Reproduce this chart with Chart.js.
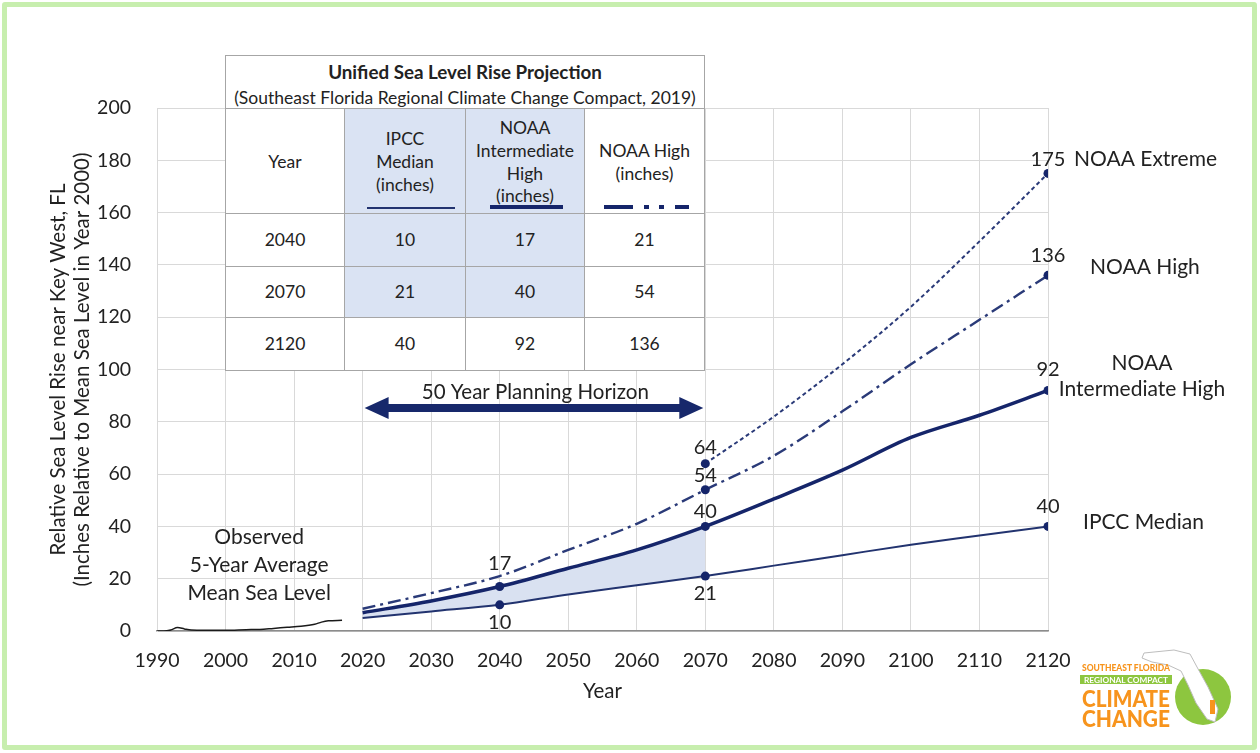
<!DOCTYPE html>
<html>
<head>
<meta charset="utf-8">
<script src="https://cdn.jsdelivr.net/npm/chart.js@4.4.1/dist/chart.umd.min.js"></script>
<style>
  html, body { margin: 0; padding: 0; background: #fff; }
  #wrap { position: relative; width: 1260px; height: 753px; overflow: hidden; font-family: Lato, 'Noto Sans', sans-serif; color: #222; }
  #frame { position: absolute; left: 2px; top: 2px; right: 3px; bottom: 3px; border: 5px solid #c7eeae; border-radius: 3px; pointer-events: none; }
  #tbl { position: absolute; left: 225px; top: 55px; width: 480px; background: #fff; border: 1px solid #a6a6a6; box-sizing: border-box; }
  #tbl .ttl { height: 53px; border-bottom: 1px solid #a6a6a6; text-align: center; font-size: 17.5px; line-height: 25px; padding-top: 3px; box-sizing: border-box; white-space: nowrap; }
  #tbl .ttl b { font-weight: 700; font-size: 18.8px; }
  #tbl .grid { display: grid; grid-template-columns: 119px 121px 119px 119px; grid-template-rows: 105px 53px 51px 52px; }
  #tbl .cell { position: relative; display: flex; flex-direction: column; align-items: center; justify-content: center;
    font-size: 17.5px; line-height: 22.8px; text-align: center; border-right: 1px solid #a6a6a6; border-bottom: 1px solid #a6a6a6; box-sizing: border-box; white-space: nowrap; }
  #tbl .cell.last { border-right: none; }
  #tbl .cell.bottom { border-bottom: none; }
  #tbl .cell.shade { background: #dae3f3; }
  #tbl .mark { position: absolute; bottom: 4px; }
  #logo { position: absolute; left: 1078px; top: 645px; }
</style>
</head>
<body>
<div id="wrap">
  <canvas id="chart" width="1260" height="753"></canvas>
  <div id="tbl"></div>
  <svg id="logo" width="160" height="95" viewBox="0 0 160 95">
    <circle cx="125" cy="52" r="28" fill="#8dc63f"/>
    <polygon points="66,8 96,5 112,9 119,22 130,42 140,64 137,77 129,74 118,58 110,40 103,26 90,20 74,17 64,13" fill="#fff" stroke="#bdbdbd" stroke-width="1"/>
    <rect x="132" y="55" width="5" height="14" fill="#f7941d"/>
    <text x="4" y="26" font-family="Lato" font-weight="900" font-size="8.5" fill="#f7941d" textLength="88" lengthAdjust="spacingAndGlyphs">SOUTHEAST FLORIDA</text>
    <rect x="2" y="30" width="92" height="9" fill="#8dc63f"/>
    <text x="6" y="37.5" font-family="Lato" font-weight="700" font-size="7" fill="#fff" textLength="84" lengthAdjust="spacingAndGlyphs">REGIONAL COMPACT</text>
    <text x="4" y="62" font-family="Lato" font-weight="900" font-size="22" fill="#f7941d" textLength="88" lengthAdjust="spacingAndGlyphs">CLIMATE</text>
    <text x="4" y="82" font-family="Lato" font-weight="900" font-size="22" fill="#f7941d" textLength="88" lengthAdjust="spacingAndGlyphs">CHANGE</text>
  </svg>
  <div id="frame"></div>
</div>
<script>
// observed 5-year average mean sea level, Key West (inches)
const obsYears = [1990, 1991, 1992, 1993, 1994, 1995, 1997, 2000, 2003, 2005, 2007, 2009, 2011, 2013, 2014, 2015, 2017];
const obsLevel = [0, 0, 0.4, 1.3, 0.8, 0.4, 0.3, 0.3, 0.5, 0.6, 1.0, 1.4, 1.8, 2.6, 3.4, 3.9, 4.1];

// projections (inches)
const projYears = [2020, 2030, 2040, 2050, 2060, 2070, 2080, 2090, 2100, 2110, 2120];
const ipccMedian = [5, 7.5, 10, 14, 17.5, 21, 25, 29, 33, 36.5, 40];
const noaaIntHigh = [7, 11.5, 17, 24, 31, 40, 50.5, 61.5, 74, 82.5, 92];
const noaaHigh = [8.5, 14.5, 21, 31, 41, 54, 67, 84, 102, 119, 136];
const extYears = [2070, 2080, 2090, 2100, 2110, 2120];
const noaaExtreme = [64, 82, 102, 124, 149, 175];

const tableYears = [2040, 2070, 2120];
const tableHead = [['Year'], ['IPCC', 'Median', '(inches)'], ['NOAA', 'Intermediate', 'High', '(inches)'], ['NOAA High', '(inches)']];
const planStart = 2020, planEnd = 2070;

const NAVY = '#15256a';
const TEXT = '#222';
const pts = (xs, ys) => xs.map((x, i) => ({ x, y: ys[i] }));
const fillEnd = projYears.indexOf(planEnd) + 1;

const series = {
  ipcc: [projYears, ipccMedian],
  int: [projYears, noaaIntHigh],
  high: [projYears, noaaHigh],
  ext: [extYears, noaaExtreme],
};

// numbers next to the markers
const valueLabels = [
  { key: 'int', year: 2040, dy: -23 },
  { key: 'ipcc', year: 2040, dy: 18 },
  { key: 'ext', year: 2070, dy: -16 },
  { key: 'high', year: 2070, dy: -14 },
  { key: 'int', year: 2070, dy: -15 },
  { key: 'ipcc', year: 2070, dy: 17 },
  { key: 'ext', year: 2120, dy: -14 },
  { key: 'high', year: 2120, dy: -20 },
  { key: 'int', year: 2120, dy: -21 },
  { key: 'ipcc', year: 2120, dy: -20 },
];
const seriesNames = [
  { key: 'ext', lines: ['NOAA Extreme'], dx: 26, dy: -14, align: 'left' },
  { key: 'high', lines: ['NOAA High'], dx: 42, dy: -8, align: 'left' },
  { key: 'int', lines: ['NOAA', 'Intermediate High'], dx: 94, dy: -27, align: 'center' },
  { key: 'ipcc', lines: ['IPCC Median'], dx: 35, dy: -4, align: 'left' },
];

// markers only where a value is labelled
function markRadius(key) {
  const yrs = valueLabels.filter(l => l.key === key).map(l => l.year);
  return ctx => (ctx.raw && yrs.includes(ctx.raw.x) ? 4.5 : 0);
}

const annotate = {
  id: 'annotate',
  afterDatasetsDraw(chart) {
    const { ctx, scales: { x, y } } = chart;
    ctx.save();
    ctx.fillStyle = TEXT;
    ctx.textBaseline = 'middle';
    ctx.font = '20px Lato';
    ctx.textAlign = 'center';
    valueLabels.forEach(l => {
      const [xs, ys] = series[l.key];
      const v = ys[xs.indexOf(l.year)];
      ctx.fillText(String(v), x.getPixelForValue(l.year), y.getPixelForValue(v) + l.dy);
    });
    ctx.font = '21px Lato';
    seriesNames.forEach(s => {
      const [xs, ys] = series[s.key];
      const v = ys[ys.length - 1];
      ctx.textAlign = s.align;
      s.lines.forEach((t, i) => {
        ctx.fillText(t, x.getPixelForValue(xs[xs.length - 1]) + s.dx, y.getPixelForValue(v) + s.dy + i * 26);
      });
    });

    // observed label
    ctx.textAlign = 'center';
    ['Observed', '5-Year Average', 'Mean Sea Level'].forEach((t, i) => {
      ctx.fillText(t, x.getPixelForValue(2004.9), y.getPixelForValue(36) + i * 28);
    });

    // planning horizon arrow
    const x1 = x.getPixelForValue(planStart) + 2, x2 = x.getPixelForValue(planEnd) - 2;
    const yc = y.getPixelForValue(85.3);
    const hl = 24, hh = 11, sh = 4;
    ctx.fillStyle = '#17286b';
    ctx.beginPath();
    ctx.moveTo(x1, yc);
    ctx.lineTo(x1 + hl, yc - hh);
    ctx.lineTo(x1 + hl, yc - sh);
    ctx.lineTo(x2 - hl, yc - sh);
    ctx.lineTo(x2 - hl, yc - hh);
    ctx.lineTo(x2, yc);
    ctx.lineTo(x2 - hl, yc + hh);
    ctx.lineTo(x2 - hl, yc + sh);
    ctx.lineTo(x1 + hl, yc + sh);
    ctx.lineTo(x1 + hl, yc + hh);
    ctx.closePath();
    ctx.fill();
    ctx.fillStyle = TEXT;
    ctx.font = '20.5px Lato';
    ctx.fillText(`${planEnd - planStart} Year Planning Horizon`, x.getPixelForValue(2045.2), yc - 16);
    ctx.restore();
  }
};

const tickFont = { family: 'Lato', size: 19.5 };

new Chart(document.getElementById('chart'), {
  type: 'line',
  data: {
    datasets: [
      { data: pts(projYears.slice(0, fillEnd), ipccMedian.slice(0, fillEnd)), borderWidth: 0, pointRadius: 0, fill: false, cubicInterpolationMode: 'monotone' },
      { data: pts(projYears.slice(0, fillEnd), noaaIntHigh.slice(0, fillEnd)), borderWidth: 0, pointRadius: 0, fill: '-1', backgroundColor: '#d9e1f1', cubicInterpolationMode: 'monotone' },
      { label: 'Observed', data: pts(obsYears, obsLevel), borderColor: '#1a1a1a', borderWidth: 1.5, pointRadius: 0, cubicInterpolationMode: 'monotone' },
      { label: 'IPCC Median', data: pts(projYears, ipccMedian), borderColor: '#22336f', borderWidth: 2, pointRadius: markRadius('ipcc'), pointBackgroundColor: NAVY, pointBorderWidth: 0, cubicInterpolationMode: 'monotone' },
      { label: 'NOAA Intermediate High', data: pts(projYears, noaaIntHigh), borderColor: NAVY, borderWidth: 3.5, pointRadius: markRadius('int'), pointBackgroundColor: NAVY, pointBorderWidth: 0, cubicInterpolationMode: 'monotone' },
      { label: 'NOAA High', data: pts(projYears, noaaHigh), borderColor: '#2a3a78', borderWidth: 2.4, borderDash: [13, 5, 3, 5], pointRadius: markRadius('high'), pointBackgroundColor: NAVY, pointBorderWidth: 0, cubicInterpolationMode: 'monotone' },
      { label: 'NOAA Extreme', data: pts(extYears, noaaExtreme), borderColor: '#2a3a78', borderWidth: 2, borderDash: [4, 3], pointRadius: markRadius('ext'), pointBackgroundColor: NAVY, pointBorderWidth: 0, cubicInterpolationMode: 'monotone' },
    ]
  },
  options: {
    responsive: false,
    animation: false,
    layout: { padding: { top: 108, right: 212, bottom: 40, left: 0 } },
    plugins: {
      legend: { display: false },
      tooltip: { enabled: false },
      filler: { drawTime: 'beforeDatasetsDraw' },
    },
    scales: {
      x: {
        type: 'linear', min: 1990, max: 2120,
        ticks: { stepSize: 10, callback: v => String(v), font: tickFont, color: TEXT, padding: 18, maxRotation: 0 },
        grid: { color: '#d9d9d9', drawTicks: false },
        border: { color: '#8c8c8c', width: 1.5 },
        title: { display: true, text: 'Year', font: { family: 'Lato', size: 20.5 }, color: TEXT, padding: { top: 0, bottom: 9 } },
        afterFit: s => { s.height = 82; },
      },
      y: {
        min: 0, max: 200,
        ticks: { stepSize: 20, font: tickFont, color: TEXT, padding: 26 },
        grid: { color: '#d9d9d9', drawTicks: false },
        border: { color: '#d9d9d9' },
        title: {
          display: true,
          text: ['Relative Sea Level Rise near Key West, FL', '(Inches Relative to Mean Sea Level in Year 2000)'],
          font: { family: 'Lato', size: 20.5, lineHeight: 1.15 }, color: TEXT, padding: { top: 47, bottom: 0 },
        },
        afterFit: s => { s.width = 157; },
      }
    }
  },
  plugins: [annotate]
});

// summary table, values pulled from the series above
const tbl = document.getElementById('tbl');
let html = '<div class="ttl"><b>Unified Sea Level Rise Projection</b><br>(Southeast Florida Regional Climate Change Compact, 2019)</div><div class="grid">';
const rows = [tableHead].concat(tableYears.map(yr => {
  const i = projYears.indexOf(yr);
  return [[yr], [ipccMedian[i]], [noaaIntHigh[i]], [noaaHigh[i]]];
}));
const marks = [
  '',
  '<div class="mark" style="left:22px;width:88px;height:2px;background:#22336f;"></div>',
  '<div class="mark" style="left:24px;width:73px;height:4px;background:#15256a;"></div>',
  '<svg class="mark" style="left:19px;" width="85" height="4"><line x1="0" y1="2" x2="85" y2="2" stroke="#15256a" stroke-width="4" stroke-dasharray="29 11 5 10 5 11"/></svg>',
];
rows.forEach((row, r) => {
  row.forEach((lines, c) => {
    const cls = ['cell'];
    if (c === row.length - 1) cls.push('last');
    if (r === rows.length - 1) cls.push('bottom');
    if ((c === 1 || c === 2) && r < 3) cls.push('shade');
    const pad = r === 0 ? 'padding-top:3px;' : '';
    html += `<div class="${cls.join(' ')}" style="${pad}">${lines.map(t => `<span>${t}</span>`).join('')}${r === 0 ? marks[c] : ''}</div>`;
  });
});
html += '</div>';
tbl.innerHTML = html;
</script>
</body>
</html>
